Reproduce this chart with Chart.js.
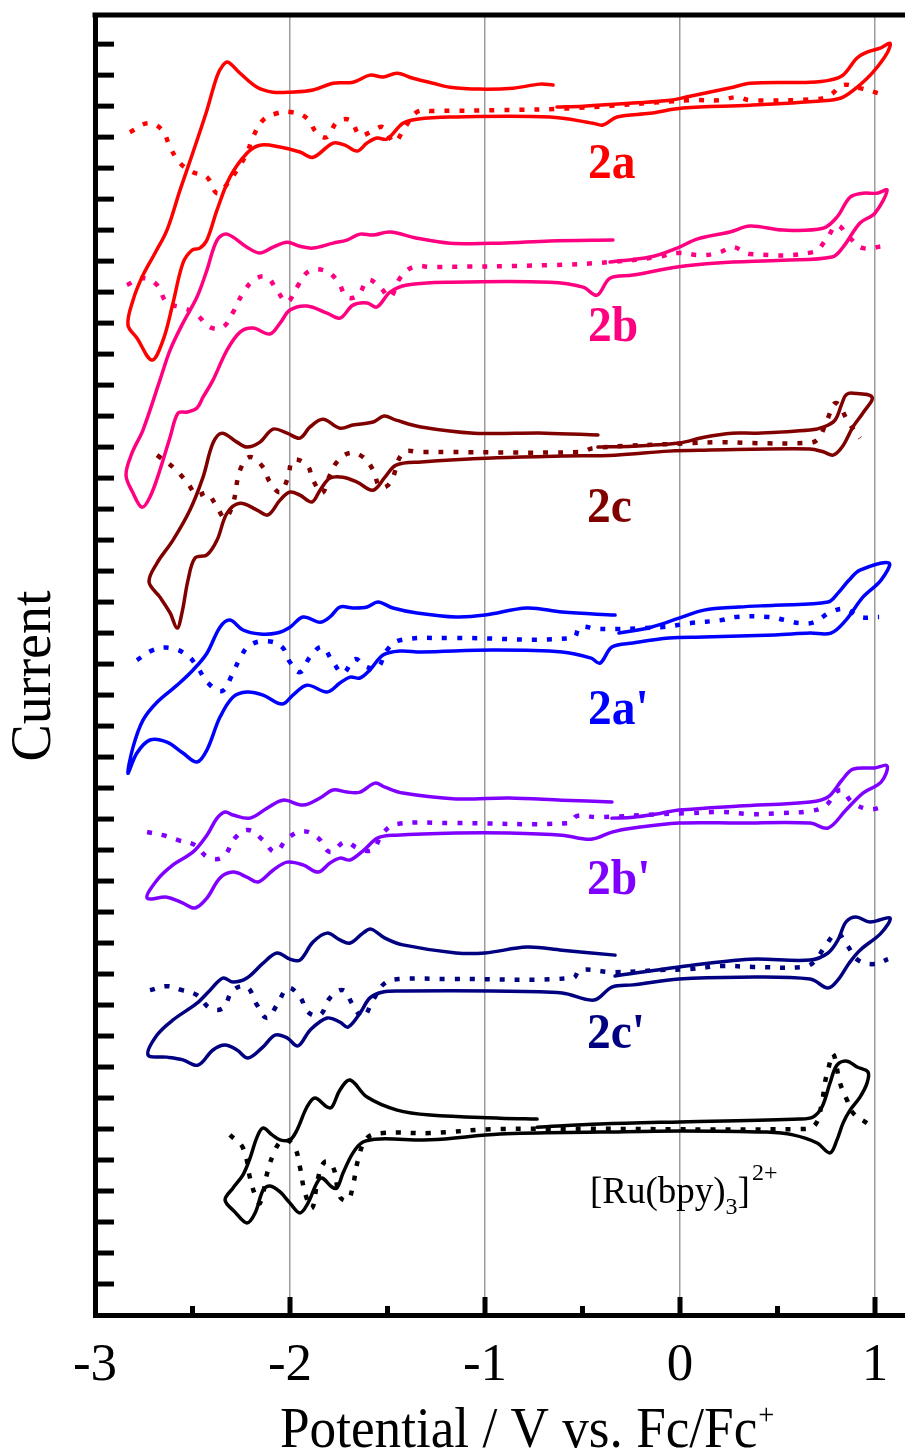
<!DOCTYPE html>
<html>
<head>
<meta charset="utf-8">
<style>
  html, body { margin: 0; padding: 0; background: #fff; }
  #wrap { width: 905px; height: 1456px; }
</style>
<script src="https://cdn.jsdelivr.net/npm/chart.js@4/dist/chart.umd.min.js"></script>
</head>
<body>
<div id="wrap"><canvas id="cv" width="905" height="1456"></canvas></div>
<script>
// Potential (V vs. Fc/Fc+) and stacked current (a.u.) pairs for each compound.
// Solid: cyclic voltammogram loop; dotted: differential pulse trace.
const cv2a = [[-0.631,38.97],[-0.497,39.00],[-0.241,39.10],[-0.051,39.19],[0.051,39.32],[0.272,39.61],[0.359,39.74],[0.667,39.77],[0.769,39.84],[0.836,40.00],[0.908,40.55],[0.959,40.74],[1.026,40.87],[1.077,41.03],
  [1.062,40.71],[0.990,40.10],[0.908,39.61],[0.836,39.29],[0.769,39.19],[0.359,39.03],[0.015,38.94],[-0.154,38.77],[-0.323,38.65],[-0.395,38.39],[-0.446,38.45],[-0.667,38.65],[-1.179,38.65],[-1.349,38.58],[-1.421,38.45],[-1.503,37.94],[-1.554,37.97],[-1.605,37.81],[-1.656,37.55],[-1.718,37.74],[-1.779,37.81],[-1.882,37.35],[-1.949,37.52],[-2.051,37.68],[-2.154,37.74],[-2.221,37.48],[-2.308,36.71],[-2.374,35.65],[-2.426,34.68],[-2.462,34.42],[-2.503,34.35],[-2.549,33.94],[-2.600,32.65],[-2.651,31.45],[-2.708,30.81],[-2.785,31.52],[-2.831,31.94],
  [-2.805,32.74],[-2.759,33.48],[-2.692,34.26],[-2.631,35.00],[-2.564,36.29],[-2.497,37.52],[-2.426,38.87],[-2.374,39.97],[-2.344,40.32],[-2.318,40.42],[-2.256,40.06],[-2.169,39.61],[-2.087,39.45],[-2.000,39.45],[-1.882,39.52],[-1.779,39.74],[-1.677,39.77],[-1.590,40.00],[-1.523,39.94],[-1.451,40.06],[-1.369,39.90],[-1.267,39.74],[-1.179,39.61],[-1.026,39.55],[-0.856,39.58],[-0.718,39.71],[-0.651,39.68]];
const dpv2a = [[-2.821,38.16],[-2.728,38.45],[-2.656,38.23],[-2.615,37.68],[-2.564,37.16],[-2.497,36.87],[-2.426,36.71],[-2.374,36.19],[-2.318,36.52],[-2.272,36.94],[-2.221,37.48],[-2.190,38.00],[-2.138,38.55],[-2.067,38.77],[-2.000,38.81],[-1.913,38.61],[-1.862,38.13],[-1.810,38.00],[-1.759,38.48],[-1.692,38.55],[-1.641,38.06],[-1.579,38.19],[-1.523,38.32],[-1.467,37.84],[-1.410,38.32],[-1.349,38.81],[-1.267,38.84],[-0.923,38.87],[-0.528,38.94],[0.051,39.19],[0.205,39.19],[0.292,39.29],[0.359,39.19],[0.703,39.23],[0.769,39.35],[0.836,39.68],[0.923,39.58],[1.015,39.42]];

const cv2b = [[-0.359,33.97],[-0.154,34.13],[-0.015,34.42],[0.087,34.71],[0.256,34.94],[0.359,35.13],[0.528,35.00],[0.733,35.06],[0.805,35.42],[0.872,36.06],[0.938,36.19],[1.010,36.19],[1.062,36.29],
  [1.000,35.55],[0.923,35.23],[0.836,34.45],[0.779,34.13],[0.528,34.03],[0.190,33.94],[-0.015,33.81],[-0.241,33.55],[-0.359,33.45],[-0.426,32.90],[-0.497,33.16],[-0.667,33.32],[-1.179,33.32],[-1.400,33.23],[-1.487,33.00],[-1.554,32.52],[-1.605,32.65],[-1.677,32.58],[-1.744,32.16],[-1.810,32.32],[-1.913,32.55],[-2.000,32.42],[-2.051,32.00],[-2.103,31.65],[-2.190,31.84],[-2.256,31.71],[-2.323,31.13],[-2.395,30.16],[-2.446,29.61],[-2.477,29.26],[-2.528,29.13],[-2.574,29.10],[-2.615,28.32],[-2.667,27.26],[-2.718,26.39],[-2.759,26.06],[-2.805,26.52],[-2.841,27.10],
  [-2.810,27.81],[-2.754,28.55],[-2.667,30.16],[-2.615,31.13],[-2.549,32.00],[-2.477,32.84],[-2.426,33.71],[-2.374,34.68],[-2.323,34.87],[-2.221,34.45],[-2.154,34.26],[-2.087,34.45],[-2.015,34.61],[-1.949,34.48],[-1.882,34.42],[-1.779,34.58],[-1.708,34.68],[-1.641,34.87],[-1.574,34.84],[-1.487,34.94],[-1.349,34.74],[-1.179,34.58],[-0.923,34.58],[-0.667,34.65],[-0.344,34.68]];
const dpv2b = [[-2.836,33.23],[-2.754,33.45],[-2.682,33.23],[-2.631,32.65],[-2.564,32.52],[-2.487,32.32],[-2.410,31.87],[-2.344,31.87],[-2.292,32.35],[-2.241,32.97],[-2.179,33.42],[-2.118,33.48],[-2.067,33.06],[-2.015,32.68],[-1.964,33.16],[-1.908,33.65],[-1.831,33.71],[-1.759,33.39],[-1.708,32.84],[-1.651,32.90],[-1.600,33.39],[-1.538,33.16],[-1.487,32.84],[-1.436,33.45],[-1.369,33.81],[-1.267,33.81],[-0.667,33.87],[-0.359,33.97],[-0.118,34.13],[-0.015,34.26],[0.118,34.19],[0.205,34.29],[0.272,34.45],[0.359,34.23],[0.682,34.29],[0.754,34.74],[0.805,35.16],[0.872,34.74],[0.938,34.42],[1.041,34.48]];

const cv2c = [[-0.421,28.00],[-0.241,28.03],[-0.005,28.13],[0.123,28.32],[0.267,28.45],[0.395,28.45],[0.667,28.55],[0.738,28.65],[0.795,28.87],[0.831,29.42],[0.851,29.68],[0.887,29.74],[0.985,29.61],
  [0.938,29.10],[0.887,28.65],[0.831,28.00],[0.785,27.74],[0.738,27.84],[0.667,27.94],[0.123,27.90],[-0.056,27.87],[-0.333,27.74],[-0.605,27.71],[-0.964,27.65],[-1.328,27.52],[-1.456,27.42],[-1.513,27.03],[-1.574,26.61],[-1.656,26.87],[-1.728,27.03],[-1.795,27.00],[-1.846,26.61],[-1.887,26.23],[-1.949,26.45],[-2.000,26.55],[-2.051,26.29],[-2.113,25.81],[-2.169,25.97],[-2.256,26.19],[-2.323,25.87],[-2.374,25.00],[-2.426,24.52],[-2.487,24.42],[-2.523,23.71],[-2.554,22.65],[-2.579,22.16],[-2.615,22.65],[-2.667,23.16],[-2.723,23.65],
  [-2.682,24.26],[-2.600,25.00],[-2.513,25.97],[-2.446,27.03],[-2.395,28.13],[-2.349,28.45],[-2.272,28.16],[-2.221,28.00],[-2.154,28.16],[-2.087,28.58],[-2.015,28.45],[-1.949,28.29],[-1.897,28.65],[-1.831,28.90],[-1.744,28.61],[-1.677,28.71],[-1.574,28.81],[-1.518,29.00],[-1.456,28.87],[-1.328,28.65],[-1.056,28.45],[-0.692,28.45],[-0.421,28.39]];
const dpv2c = [[-2.682,27.74],[-2.600,27.35],[-2.528,26.87],[-2.477,26.45],[-2.426,26.52],[-2.374,26.06],[-2.333,25.71],[-2.292,26.19],[-2.256,27.26],[-2.205,27.68],[-2.138,27.35],[-2.103,26.87],[-2.051,26.55],[-2.010,27.03],[-1.985,27.58],[-1.913,27.42],[-1.882,26.94],[-1.836,26.52],[-1.795,27.10],[-1.759,27.52],[-1.692,27.81],[-1.626,27.68],[-1.574,27.26],[-1.538,26.71],[-1.487,26.84],[-1.421,27.81],[-1.333,27.84],[-0.513,27.84],[-0.441,27.97],[0.067,28.13],[0.215,28.16],[0.374,28.13],[0.631,28.13],[0.703,28.23],[0.754,28.87],[0.800,29.42],[0.867,28.77],[0.923,28.29]];

const cv2aP = [[-0.313,22.00],[-0.149,22.19],[-0.005,22.48],[0.123,22.74],[0.303,22.84],[0.487,22.90],[0.759,23.00],[0.810,23.29],[0.867,23.71],[0.923,24.03],[1.072,24.26],
  [1.031,23.71],[0.938,23.16],[0.851,22.42],[0.774,22.00],[0.667,22.00],[0.487,21.94],[0.123,21.87],[-0.056,21.84],[-0.241,21.68],[-0.349,21.55],[-0.410,21.03],[-0.456,21.19],[-0.605,21.39],[-0.964,21.45],[-1.328,21.39],[-1.436,21.42],[-1.523,21.29],[-1.590,20.81],[-1.641,20.55],[-1.692,20.58],[-1.744,20.39],[-1.810,20.10],[-1.913,20.32],[-1.985,20.00],[-2.041,19.71],[-2.138,20.00],[-2.221,20.10],[-2.292,19.94],[-2.359,19.29],[-2.426,18.23],[-2.477,17.84],[-2.549,18.13],[-2.631,18.48],[-2.718,18.55],[-2.785,18.13],[-2.831,17.48],
  [-2.805,18.32],[-2.754,19.19],[-2.682,19.77],[-2.579,20.32],[-2.497,20.81],[-2.426,21.35],[-2.359,22.19],[-2.308,22.42],[-2.241,22.10],[-2.154,21.97],[-2.067,22.00],[-2.000,22.19],[-1.933,22.52],[-1.846,22.35],[-1.795,22.52],[-1.744,22.84],[-1.677,22.81],[-1.605,22.84],[-1.549,23.00],[-1.472,22.81],[-1.349,22.65],[-1.149,22.52],[-1.000,22.58],[-0.785,22.81],[-0.605,22.68],[-0.333,22.58]];
const dpv2aP = [[-2.785,21.13],[-2.703,21.45],[-2.615,21.52],[-2.528,21.29],[-2.472,20.87],[-2.421,20.39],[-2.349,20.13],[-2.297,20.65],[-2.256,21.19],[-2.205,21.61],[-2.118,21.74],[-2.041,21.55],[-2.000,21.06],[-1.949,20.74],[-1.897,21.23],[-1.836,21.55],[-1.779,21.06],[-1.728,20.71],[-1.667,21.16],[-1.605,20.90],[-1.549,20.90],[-1.503,21.45],[-1.436,21.77],[-1.179,21.84],[-0.549,21.84],[-0.513,22.19],[-0.421,22.13],[-0.097,22.19],[0.051,22.32],[0.215,22.42],[0.287,22.52],[0.451,22.52],[0.538,22.42],[0.615,22.32],[0.687,22.35],[0.774,22.68],[0.851,22.77],[0.923,22.52],[1.021,22.52]];

const cv2bP = [[-0.349,16.03],[-0.241,16.06],[-0.097,16.19],[-0.005,16.29],[0.303,16.42],[0.667,16.55],[0.759,16.71],[0.831,17.26],[0.887,17.61],[0.995,17.65],[1.062,17.71],
  [1.031,17.19],[0.938,16.84],[0.851,16.29],[0.759,15.71],[0.667,15.87],[0.303,15.87],[-0.005,15.87],[-0.241,15.71],[-0.349,15.58],[-0.456,15.35],[-0.605,15.48],[-0.877,15.55],[-1.149,15.55],[-1.456,15.48],[-1.549,15.39],[-1.621,15.00],[-1.692,14.68],[-1.744,14.74],[-1.795,14.58],[-1.856,14.29],[-1.933,14.52],[-2.015,14.61],[-2.087,14.35],[-2.164,13.97],[-2.221,14.13],[-2.292,14.29],[-2.359,14.10],[-2.426,13.45],[-2.487,13.13],[-2.549,13.29],[-2.631,13.48],[-2.733,13.45],
  [-2.682,14.03],[-2.600,14.52],[-2.497,14.94],[-2.426,15.48],[-2.374,16.03],[-2.333,16.23],[-2.292,16.13],[-2.205,16.03],[-2.118,16.35],[-2.036,16.61],[-1.933,16.45],[-1.846,16.68],[-1.779,16.94],[-1.708,16.87],[-1.641,16.87],[-1.564,17.16],[-1.513,17.03],[-1.421,16.84],[-1.149,16.65],[-0.877,16.68],[-0.605,16.61],[-0.349,16.55]];
const dpv2bP = [[-2.733,15.58],[-2.651,15.48],[-2.574,15.32],[-2.487,15.16],[-2.421,14.77],[-2.344,14.77],[-2.282,15.39],[-2.215,15.65],[-2.138,15.32],[-2.077,14.94],[-2.010,15.39],[-1.933,15.61],[-1.856,15.39],[-1.795,14.94],[-1.718,15.26],[-1.651,15.06],[-1.579,15.00],[-1.523,15.55],[-1.451,15.84],[-1.179,15.87],[-0.569,15.87],[-0.528,16.10],[-0.421,16.06],[-0.097,16.16],[0.051,16.19],[0.215,16.23],[0.359,16.16],[0.523,16.19],[0.667,16.26],[0.744,16.42],[0.821,16.94],[0.887,16.52],[0.974,16.32],[1.051,16.42]];

const cv2cP = [[-0.333,10.94],[-0.005,11.23],[0.359,11.48],[0.667,11.45],[0.759,11.68],[0.810,12.10],[0.851,12.68],[0.903,12.84],[0.974,12.68],[1.077,12.81],
  [1.031,12.32],[0.923,11.77],[0.867,11.35],[0.810,10.81],[0.759,10.55],[0.667,10.84],[0.303,10.90],[-0.005,10.84],[-0.241,10.65],[-0.349,10.58],[-0.441,10.16],[-0.605,10.39],[-0.964,10.45],[-1.421,10.45],[-1.523,10.42],[-1.590,10.23],[-1.641,9.74],[-1.703,9.29],[-1.744,9.45],[-1.810,9.58],[-1.897,9.19],[-1.959,8.68],[-2.015,8.94],[-2.077,9.03],[-2.138,8.65],[-2.215,8.29],[-2.272,8.55],[-2.333,8.71],[-2.395,8.55],[-2.472,8.06],[-2.549,8.23],[-2.631,8.32],[-2.728,8.39],
  [-2.682,9.03],[-2.600,9.52],[-2.477,10.06],[-2.410,10.48],[-2.344,10.87],[-2.292,10.74],[-2.221,10.87],[-2.138,11.35],[-2.067,11.68],[-2.000,11.48],[-1.949,11.45],[-1.882,12.03],[-1.810,12.32],[-1.744,12.10],[-1.692,12.00],[-1.626,12.32],[-1.585,12.45],[-1.513,12.16],[-1.421,11.94],[-1.149,11.68],[-1.000,11.68],[-0.785,11.87],[-0.605,11.77],[-0.333,11.61]];
const dpv2cP = [[-2.718,10.48],[-2.631,10.61],[-2.554,10.48],[-2.477,10.32],[-2.410,9.90],[-2.344,9.90],[-2.292,10.48],[-2.221,10.58],[-2.169,10.00],[-2.118,9.58],[-2.067,10.00],[-2.010,10.55],[-1.949,10.26],[-1.908,9.77],[-1.846,9.68],[-1.795,10.23],[-1.728,10.48],[-1.677,10.00],[-1.626,9.61],[-1.574,10.16],[-1.513,10.71],[-1.436,10.84],[-1.179,10.84],[-0.549,10.87],[-0.513,11.13],[-0.338,11.06],[-0.097,11.13],[0.051,11.16],[0.215,11.26],[0.374,11.23],[0.631,11.23],[0.687,11.39],[0.749,11.94],[0.805,12.32],[0.856,11.94],[0.913,11.45],[0.995,11.32],[1.067,11.48]];

const cvRu = [[-0.733,6.06],[-0.410,6.16],[0.000,6.23],[0.615,6.32],[0.682,6.39],[0.728,6.71],[0.769,7.48],[0.805,8.06],[0.856,8.19],[0.908,8.00],[0.964,7.84],
  [0.959,7.48],[0.923,7.03],[0.872,6.61],[0.836,6.19],[0.805,5.65],[0.769,5.23],[0.703,5.55],[0.579,5.81],[0.446,5.90],[0.000,5.94],[-0.410,5.90],[-0.923,5.84],[-1.282,5.65],[-1.538,5.68],[-1.626,5.58],[-1.677,5.23],[-1.728,4.58],[-1.759,4.10],[-1.785,4.13],[-1.836,4.42],[-1.862,4.26],[-1.908,3.61],[-1.949,3.29],[-2.000,3.61],[-2.051,3.97],[-2.103,4.16],[-2.138,4.03],[-2.179,3.29],[-2.221,2.97],[-2.282,3.32],[-2.333,3.71],
  [-2.292,4.10],[-2.241,4.52],[-2.205,5.06],[-2.169,5.74],[-2.138,6.03],[-2.092,5.81],[-2.051,5.65],[-2.000,5.65],[-1.964,5.97],[-1.913,6.71],[-1.872,7.00],[-1.810,6.71],[-1.785,6.71],[-1.744,7.26],[-1.692,7.58],[-1.605,7.03],[-1.451,6.61],[-1.282,6.45],[-0.923,6.35],[-0.733,6.32]];
const dpvRu = [[-2.308,5.81],[-2.241,5.39],[-2.205,4.42],[-2.179,3.87],[-2.154,3.61],[-2.113,4.68],[-2.087,5.16],[-2.051,5.58],[-2.015,5.65],[-1.974,5.39],[-1.949,4.77],[-1.923,3.94],[-1.887,3.45],[-1.856,4.42],[-1.821,4.94],[-1.779,4.77],[-1.744,3.81],[-1.703,3.71],[-1.677,4.19],[-1.651,5.00],[-1.605,5.71],[-1.523,5.87],[-1.282,5.87],[-0.923,6.00],[0.615,6.00],[0.692,6.13],[0.728,6.87],[0.744,7.52],[0.759,7.90],[0.785,8.42],[0.821,7.48],[0.856,6.94],[0.887,6.52],[0.959,6.19]];

const compoundNames = ['2a', '2b', '2c', "2a'", "2b'", "2c'", '[Ru(bpy)3]2+'];
const cvSets  = [cv2a, cv2b, cv2c, cv2aP, cv2bP, cv2cP, cvRu];
const dpvSets = [dpv2a, dpv2b, dpv2c, dpv2aP, dpv2bP, dpv2cP, dpvRu];
const xTickValues = [-3, -2, -1, 0, 1];

// Drawing styles
const palette = ['#ff0000', '#ff0080', '#800000', '#0000ff', '#8000ff', '#000080', '#000000'];
const SERIF = "'Liberation Serif', 'Times New Roman', serif";

// Where each compound tag sits, in (potential, current) units
const tagAnchors = [
  { x: -0.472, y: 36.68 }, { x: -0.472, y: 31.42 }, { x: -0.477, y: 25.58 },
  { x: -0.472, y: 19.06 }, { x: -0.477, y: 13.58 }, { x: -0.477, y: 8.61 },
  { x: -0.462, y: 3.61 }
];

const toXY = arr => arr.map(([x, y]) => ({ x, y }));
const datasets = [];
compoundNames.forEach((name, i) => {
  datasets.push({
    label: name + ' CV', data: toXY(cvSets[i]), showLine: true,
    borderColor: palette[i], borderWidth: 3.5, tension: 0.35,
    pointRadius: 0, fill: false, borderJoinStyle: 'round', borderCapStyle: 'round'
  });
  datasets.push({
    label: name + ' DPV', data: toXY(dpvSets[i]), showLine: true,
    borderColor: palette[i], borderWidth: 4.5, borderDash: [5, 10], borderCapStyle: 'butt',
    tension: 0.4, pointRadius: 0, fill: false
  });
});

function isInt(v) { return Math.abs(v - Math.round(v)) < 1e-6; }

function text(ctx, str, x, y, font, opts = {}) {
  ctx.save();
  ctx.translate(x, y);
  if (opts.rotate) ctx.rotate(opts.rotate);
  ctx.scale(opts.sx || 1, opts.sy || 1);
  ctx.font = font;
  ctx.fillStyle = opts.color || '#000';
  ctx.textAlign = opts.align || 'left';
  ctx.textBaseline = 'alphabetic';
  ctx.fillText(str, 0, 0);
  const w = ctx.measureText(str).width * (opts.sx || 1);
  ctx.restore();
  return w;
}

const decorations = {
  id: 'decorations',
  afterDraw(chart) {
    const { ctx, chartArea: a, scales: { x, y } } = chart;
    ctx.save();
    ctx.strokeStyle = '#000';
    ctx.lineCap = 'butt';
    // top frame line
    ctx.lineWidth = 5;
    ctx.beginPath(); ctx.moveTo(a.left - 2.5, a.top); ctx.lineTo(a.right, a.top); ctx.stroke();
    // inward ticks on the current axis
    y.ticks.forEach(t => {
      if (t.value <= 0) return;
      const py = y.getPixelForValue(t.value);
      ctx.beginPath(); ctx.moveTo(a.left, py); ctx.lineTo(a.left + 19, py); ctx.stroke();
    });
    // inward ticks on the potential axis
    x.ticks.forEach(t => {
      if (t.value <= x.min + 1e-6) return;
      const px = x.getPixelForValue(t.value);
      const len = isInt(t.value) ? 18 : 9;
      ctx.beginPath(); ctx.moveTo(px, a.bottom); ctx.lineTo(px, a.bottom - len); ctx.stroke();
    });
    ctx.restore();

    // tick labels
    xTickValues.forEach(v => {
      text(ctx, String(v), x.getPixelForValue(v), a.bottom + 65, '53px ' + SERIF, { align: 'center' });
    });
    // axis titles
    const tx = x.getPixelForValue(-2) - 10;
    const w = text(ctx, 'Potential / V vs. Fc/Fc', tx, a.bottom + 132, '56px ' + SERIF, { sx: 0.95 });
    text(ctx, '+', tx + w + 1, a.bottom + 109, '30px ' + SERIF, { sx: 0.95 });
    text(ctx, 'Current', a.left - 45, (a.top + a.bottom) / 2 + 11, '56px ' + SERIF, { rotate: -Math.PI / 2, align: 'center' });

    // compound tags
    compoundNames.forEach((name, i) => {
      const px = x.getPixelForValue(tagAnchors[i].x);
      const py = y.getPixelForValue(tagAnchors[i].y);
      if (i < 6) {
        text(ctx, name, px, py, 'bold 50px ' + SERIF, { color: palette[i], sx: 0.95 });
      } else {
        let cx = px;
        cx += text(ctx, '[Ru(bpy)', cx, py, '37px ' + SERIF);
        cx += text(ctx, '3', cx, py + 11, '24px ' + SERIF);
        cx += text(ctx, ']', cx, py, '37px ' + SERIF);
        text(ctx, '2+', cx + 2, py - 23, '24px ' + SERIF);
      }
    });
  }
};

new Chart(document.getElementById('cv'), {
  type: 'scatter',
  data: { datasets },
  options: {
    responsive: false,
    animation: false,
    events: [],
    layout: { padding: { top: 15, right: 0, bottom: 0, left: 0 } },
    plugins: { legend: { display: false }, tooltip: { enabled: false } },
    scales: {
      x: {
        type: 'linear', position: 'bottom', min: -3, max: 1.1538,
        ticks: { display: false, stepSize: 0.5, includeBounds: false, autoSkip: false },
        grid: {
          display: true, drawTicks: false, lineWidth: 1.5,
          color: c => (c.tick && isInt(c.tick.value) && c.tick.value > -3) ? '#9c9c9c' : 'rgba(0,0,0,0)'
        },
        border: { display: true, width: 5, color: '#000' },
        afterFit: s => { s.height = 141; }
      },
      y: {
        type: 'linear', min: 0, max: 41.94,
        ticks: { display: false, stepSize: 1, includeBounds: false },
        grid: { display: false, drawTicks: false },
        border: { display: true, width: 5, color: '#000' },
        afterFit: s => { s.width = 95; }
      }
    }
  },
  plugins: [decorations]
});
</script>
</body>
</html>
